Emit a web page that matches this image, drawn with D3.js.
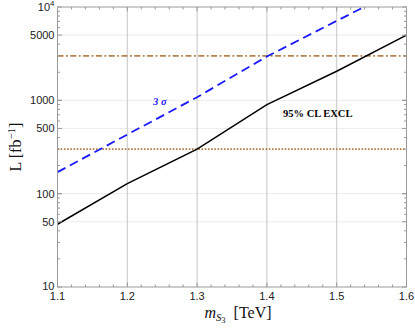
<!DOCTYPE html>
<html><head><meta charset="utf-8">
<script src="https://cdn.jsdelivr.net/npm/d3@7"></script>
<style>body{margin:0;background:#fff}svg{display:block}</style>
</head><body>
<svg id="c" width="415" height="334"></svg>
<script>
const masses = [1.1, 1.2, 1.3, 1.4, 1.5, 1.6];
const excl95 = [47, 128, 300, 900, 2050, 5000];
const sigma3 = [170, 430, 1080, 2950, 7100, 17000];
const hLineDotDash = 3000;
const hLineDotted = 300;
const xTicks = [1.1, 1.2, 1.3, 1.4, 1.5, 1.6];
const yTicks = [10, 50, 100, 500, 1000, 5000, 10000];
const yTickLabels = ["10", "50", "100", "500", "1000", "5000", "10^4"];

const svg = d3.select("#c");
const L = 57.5, R = 406.5, T = 7, B = 287;
const x = d3.scaleLinear().domain([1.1, 1.6]).range([L, R]);
const y = d3.scaleLog().domain([10, 10000]).range([B, T]);

svg.append("defs").append("clipPath").attr("id", "pc")
  .append("rect").attr("x", L).attr("y", T).attr("width", R - L).attr("height", B - T);

// gridlines
svg.append("g").selectAll("line").data([50, 100, 500, 1000, 5000]).join("line")
  .attr("x1", L).attr("x2", R).attr("y1", d => y(d)).attr("y2", d => y(d))
  .attr("stroke", "#ececec").attr("stroke-width", 1);
svg.append("g").selectAll("line").data(xTicks.slice(1, -1)).join("line")
  .attr("x1", d => x(d)).attr("x2", d => x(d)).attr("y1", T).attr("y2", B)
  .attr("stroke", "#cfcfcf").attr("stroke-width", 1.2);

const g = svg.append("g").attr("clip-path", "url(#pc)");
// horizontal reference lines
g.append("line").attr("x1", L).attr("x2", R)
  .attr("y1", y(hLineDotDash)).attr("y2", y(hLineDotDash))
  .attr("stroke", "#b3824f").attr("stroke-width", 1.8)
  .attr("stroke-dasharray", "6,2.5,1.8,2.5");
g.append("line").attr("x1", L).attr("x2", R)
  .attr("y1", y(hLineDotted)).attr("y2", y(hLineDotted))
  .attr("stroke", "#b3783e").attr("stroke-width", 1.7)
  .attr("stroke-dasharray", "1.6,1.6");

const line = d3.line().x((d, i) => x(masses[i])).y(d => y(d));
g.append("path").datum(sigma3).attr("d", line).attr("fill", "none")
  .attr("stroke", "#1a1aff").attr("stroke-width", 1.8).attr("stroke-dasharray", "9,5");
g.append("path").datum(excl95).attr("d", line).attr("fill", "none")
  .attr("stroke", "#000").attr("stroke-width", 1.5);

// frame
const fc = "#999";
svg.append("rect").attr("x", L).attr("y", T).attr("width", R - L).attr("height", B - T)
  .attr("fill", "none").attr("stroke", fc).attr("stroke-width", 1);

// x ticks
const xMinor = d3.range(1.1, 1.6001, 0.02);
xMinor.forEach(v => {
  const major = xTicks.some(t => Math.abs(t - v) < 1e-6);
  const len = major ? 4.5 : 2.5;
  svg.append("line").attr("x1", x(v)).attr("x2", x(v)).attr("y1", B).attr("y2", B - len).attr("stroke", fc);
  svg.append("line").attr("x1", x(v)).attr("x2", x(v)).attr("y1", T).attr("y2", T + len).attr("stroke", fc);
});
svg.append("g").selectAll("text").data(xTicks).join("text")
  .attr("x", d => x(d)).attr("y", B + 13).attr("text-anchor", "middle")
  .attr("font-family", "Liberation Sans, Arial, sans-serif").attr("font-size", 11).attr("fill", "#222")
  .text(d => d.toFixed(1));

// y ticks
const yMinor = [];
[10, 100, 1000].forEach(dec => { for (let k = 1; k <= 10; k++) yMinor.push(dec * k); });
yMinor.forEach(v => {
  const major = yTicks.includes(v);
  const len = major ? 4.5 : 2.5;
  svg.append("line").attr("x1", L).attr("x2", L + len).attr("y1", y(v)).attr("y2", y(v)).attr("stroke", fc);
  svg.append("line").attr("x1", R).attr("x2", R - len).attr("y1", y(v)).attr("y2", y(v)).attr("stroke", fc);
});
const yl = svg.append("g").selectAll("text").data(yTicks).join("text")
  .attr("x", L - 3).attr("y", d => y(d) + (d === 10 ? 3 : 4)).attr("text-anchor", "end")
  .attr("font-family", "Liberation Sans, Arial, sans-serif").attr("font-size", 11).attr("fill", "#222");
yl.each(function(d, i) {
  const s = yTickLabels[i];
  const t = d3.select(this);
  if (s.includes("^")) {
    const [b, e] = s.split("^");
    t.append("tspan").text(b);
    t.append("tspan").attr("dy", -5).attr("font-size", 8).text(e);
  } else t.text(s);
});

// axis labels
const serif = "Liberation Serif, Times New Roman, serif";
const ylab = svg.append("text").attr("transform", `translate(21,${(T + B) / 2}) rotate(-90)`)
  .attr("text-anchor", "middle").attr("font-family", serif).attr("font-size", 16).attr("fill", "#111");
ylab.append("tspan").text("L [fb");
ylab.append("tspan").attr("dy", -6).attr("font-size", 11).text("\u22121");
ylab.append("tspan").attr("dy", 6).text("]");

const xlab = svg.append("text").attr("x", 238).attr("y", 318).attr("text-anchor", "middle")
  .attr("font-family", serif).attr("font-size", 16).attr("fill", "#111");
xlab.append("tspan").attr("font-style", "italic").text("m");
xlab.append("tspan").attr("font-style", "italic").attr("font-size", 11).attr("dy", 3).text("S");
xlab.append("tspan").attr("font-size", 8).attr("dy", 2).text("3");
xlab.append("tspan").attr("dy", -5).text("\u2002[TeV]");

// annotations
svg.append("text").attr("x", 153).attr("y", 105)
  .attr("font-family", serif).attr("font-size", 10.5).attr("font-weight", "bold").attr("font-style", "italic")
  .attr("fill", "#1a1aff").text("3 \u03c3");
svg.append("text").attr("x", 283).attr("y", 117)
  .attr("font-family", serif).attr("font-size", 10.5).attr("font-weight", "bold")
  .attr("fill", "#000").text("95% CL EXCL");
</script>
</body></html>
